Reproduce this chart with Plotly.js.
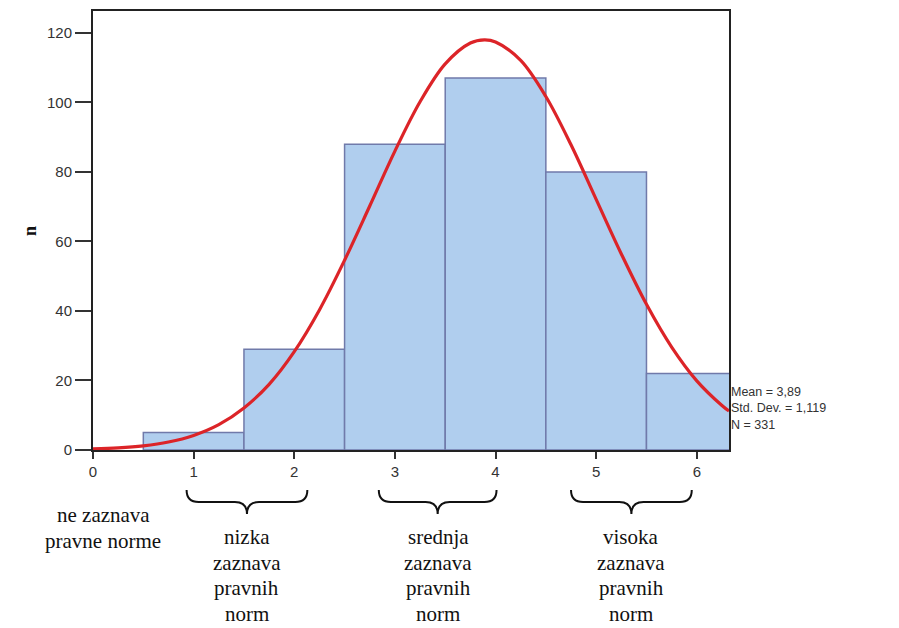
<!DOCTYPE html>
<html>
<head>
<meta charset="utf-8">
<script src="https://cdn.plot.ly/plotly-3.0.1.min.js"></script>
<style>html,body{margin:0;padding:0;background:#fff;}#chart{width:899px;height:628px;}</style>
</head>
<body>
<div id="chart"></div>
<script>
// ---- data ----
const binCenters = [1, 2, 3, 4, 5, 6];
const counts = [5, 29, 88, 107, 80, 22];
const curveX = [0, 0.25, 0.5, 0.75, 1, 1.25, 1.5, 1.75, 2, 2.25, 2.5, 2.75, 3, 3.25, 3.5, 3.75, 3.89, 4, 4.25, 4.5, 4.75, 5, 5.25, 5.5, 5.75, 6, 6.25, 6.32];
const curveY = [0.3, 0.6, 1.2, 2.3, 4.2, 7.3, 12.1, 18.9, 28.3, 40.3, 54.6, 70.2, 86.0, 100.2, 111.1, 117.1, 118.0, 117.4, 112.1, 101.7, 87.8, 72.1, 56.4, 41.9, 29.6, 19.9, 12.8, 11.2];
const xTickVals = [0, 1, 2, 3, 4, 5, 6];
const yTickVals = [0, 20, 40, 60, 80, 100, 120];
const statLines = ["Mean = 3,89", "Std. Dev. = 1,119", "N = 331"];
const yTitle = "n";
const groupLabels = [
  ["ne zaznava", "pravne norme"],
  ["nizka", "zaznava", "pravnih", "norm"],
  ["srednja", "zaznava", "pravnih", "norm"],
  ["visoka", "zaznava", "pravnih", "norm"]
];
const groupCenters = [0.10, 1.53, 3.43, 5.35];
const braceSpans = [[0.93, 2.13], [2.84, 4.01], [4.75, 5.95]];

// ---- layout helpers (pixel geometry of the plot area) ----
const W = 899, H = 628;
const M = {l: 93, r: 170, t: 11, b: 178};
const plotH = H - M.t - M.b;
const plotW = W - M.l - M.r;
const py = (pix) => (H - M.b - pix) / plotH;   // pixel y -> paper y
const px = (pix) => (pix - M.l) / plotW;       // pixel x -> paper x
const SERIF = '"Liberation Serif", "Times New Roman", Times, serif';
const SANS = '"Liberation Sans", Arial, sans-serif';

const traces = [
  {
    type: 'bar', x: binCenters, y: counts, width: 1,
    marker: {color: 'rgb(176,206,238)', line: {color: 'rgb(112,122,170)', width: 1.5}},
    hoverinfo: 'skip'
  },
  {
    type: 'scatter', mode: 'lines', x: curveX, y: curveY,
    line: {color: 'rgb(220,36,40)', width: 3.2, shape: 'spline'},
    hoverinfo: 'skip'
  }
];

const annotations = [];
annotations.push({
  text: '<b>' + yTitle + '</b>', xref: 'paper', yref: 'paper', x: px(18), y: py(231),
  showarrow: false, textangle: -90,
  font: {family: SERIF, size: 18, color: '#111'}
});
annotations.push({
  text: statLines.join('<br>'), xref: 'paper', yref: 'paper', x: px(729), y: py(408),
  xanchor: 'left', yanchor: 'middle', align: 'left', showarrow: false,
  font: {family: SANS, size: 12.5, color: '#333'}
});
groupLabels.forEach((lines, g) => {
  const y0 = g === 0 ? 515 : 537;
  const step = g === 0 ? 25.5 : 25.5;
  lines.forEach((t, i) => {
    annotations.push({
      text: t, xref: 'x', yref: 'paper', x: groupCenters[g], y: py(y0 + i * step),
      xanchor: 'center', yanchor: 'middle', showarrow: false,
      font: {family: SERIF, size: 21, color: '#111'}
    });
  });
});

const shapes = braceSpans.map(([a, b]) => {
  const m = (a + b) / 2, r = 0.12;
  const yT = py(490), yM = py(502), yP = py(514);
  const path = `M ${a},${yT} Q ${a},${yM} ${a + r},${yM} L ${m - r},${yM} Q ${m},${yM} ${m},${yP} ` +
               `Q ${m},${yM} ${m + r},${yM} L ${b - r},${yM} Q ${b},${yM} ${b},${yT}`;
  return {type: 'path', xref: 'x', yref: 'paper', path: path, line: {color: '#111', width: 2}};
});

const layout = {
  width: W, height: H, margin: M,
  paper_bgcolor: '#fff', plot_bgcolor: '#fff',
  showlegend: false, bargap: 0,
  xaxis: {
    range: [0, 6.32], tickvals: xTickVals, ticks: 'outside', ticklen: 7, tickwidth: 2, tickcolor: '#333',
    showgrid: false, zeroline: false, showline: true, linecolor: '#222', linewidth: 2, mirror: true,
    tickfont: {family: SANS, size: 15, color: '#333'}
  },
  yaxis: {
    range: [0, 126.3], tickvals: yTickVals, ticks: 'outside', ticklen: 16, tickwidth: 2, tickcolor: '#333',
    showgrid: false, zeroline: false, showline: true, linecolor: '#222', linewidth: 2, mirror: true,
    tickfont: {family: SANS, size: 15, color: '#333'}
  },
  annotations: annotations,
  shapes: shapes
};

Plotly.newPlot('chart', traces, layout, {staticPlot: true, displayModeBar: false});
</script>
</body>
</html>
